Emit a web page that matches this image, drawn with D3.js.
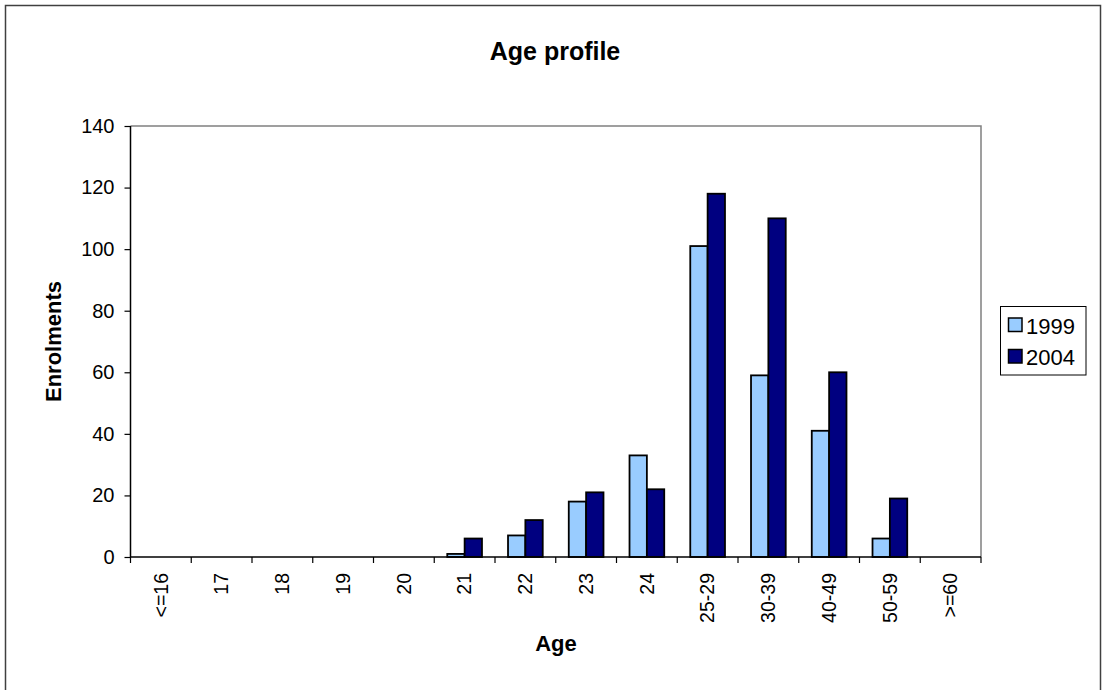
<!DOCTYPE html>
<html><head><meta charset="utf-8">
<script src="https://cdn.jsdelivr.net/npm/d3@7"></script>
<style>body{margin:0;background:#fff}svg{display:block;font-family:Arial,"Liberation Sans",sans-serif}</style>
</head><body>
<svg id="c" width="1102" height="690"></svg>
<script>
const categories = ["<=16","17","18","19","20","21","22","23","24","25-29","30-39","40-49","50-59",">=60"];
const values1999 = [0,0,0,0,0,1,7,18,33,101,59,41,6,0];
const values2004 = [0,0,0,0,0,6,12,21,22,118,110,60,19,0];
const seriesNames = ["1999","2004"];
const yTicks = [0,20,40,60,80,100,120,140];
const colors = ["#99CCFF","#000080"];

const svg = d3.select("#c");
svg.append("rect").attr("x",5.5).attr("y",5.5).attr("width",1095).attr("height",700)
  .attr("fill","#fff").attr("stroke","#404040").attr("stroke-width",1.5);

const L=130.5, R=981, T=126, B=557;
const x = d3.scaleBand().domain(categories).range([L,R]).paddingInner(0).paddingOuter(0);
const y = d3.scaleLinear().domain([0,140]).range([B,T]);
const bw = x.bandwidth()/3.5;
const sub = d3.scaleBand().domain(seriesNames).range([0,2*bw]);

svg.append("path").attr("d",`M${L},${T}H${R}V${B}`).attr("fill","none").attr("stroke","#808080").attr("stroke-width",1.5);

const data = categories.map((c,i)=>({c, v:[values1999[i],values2004[i]]}));
const g = svg.append("g");
data.forEach(d=>{
  d.v.forEach((v,j)=>{
    if(v<=0) return;
    g.append("rect")
      .attr("x", x(d.c) + 0.75*bw + sub(seriesNames[j]))
      .attr("y", y(v))
      .attr("width", bw)
      .attr("height", y(0)-y(v))
      .attr("fill", colors[j]).attr("stroke","#000").attr("stroke-width",1.8);
  });
});

const ya = svg.append("g").attr("transform",`translate(${L},0)`)
  .call(d3.axisLeft(y).tickValues(yTicks).tickSize(6).tickPadding(10).tickFormat(d3.format("d")));
ya.select(".domain").attr("stroke","#000").attr("stroke-width",1.5).attr("d",`M0,${B}V${T}`);
ya.selectAll(".tick line").attr("stroke","#000").attr("stroke-width",1.2);
ya.selectAll("text").attr("font-size",20).attr("fill","#000").attr("font-family","Arial, 'Liberation Sans', sans-serif");

const xa = svg.append("g").attr("transform",`translate(0,${B})`);
xa.append("line").attr("x1",L).attr("x2",R).attr("y1",0).attr("y2",0).attr("stroke","#000").attr("stroke-width",1.5);
const bounds = categories.map(c=>x(c)).concat([R]);
xa.selectAll("line.t").data(bounds).join("line").attr("class","t")
  .attr("x1",d=>d).attr("x2",d=>d).attr("y1",0).attr("y2",6).attr("stroke","#000").attr("stroke-width",1.2);
xa.selectAll("text").data(categories).join("text")
  .attr("transform",d=>`translate(${x(d)+x.bandwidth()/2},16) rotate(-90)`)
  .attr("text-anchor","end").attr("dy","0.35em").attr("font-size",19.5).attr("fill","#000")
  .text(d=>d);

svg.append("text").attr("x",555).attr("y",60).attr("text-anchor","middle")
  .attr("font-size",25).attr("font-weight","bold").text("Age profile");
svg.append("text").attr("x",556).attr("y",651).attr("text-anchor","middle")
  .attr("font-size",22).attr("font-weight","bold").text("Age");
svg.append("text").attr("transform",`translate(61,${(T+B)/2}) rotate(-90)`).attr("text-anchor","middle")
  .attr("font-size",22).attr("font-weight","bold").text("Enrolments");

const lg = svg.append("g");
lg.append("rect").attr("x",1000.5).attr("y",306.5).attr("width",85.5).attr("height",68.5)
  .attr("fill","#fff").attr("stroke","#000").attr("stroke-width",1);
seriesNames.forEach((s,i)=>{
  const yy = 318 + i*31.5;
  lg.append("rect").attr("x",1008.5).attr("y",yy).attr("width",13.5).attr("height",13.5)
    .attr("fill",colors[i]).attr("stroke","#000").attr("stroke-width",1.5);
  lg.append("text").attr("x",1026).attr("y",yy+15.5).attr("font-size",22).text(s);
});
</script>
</body></html>
